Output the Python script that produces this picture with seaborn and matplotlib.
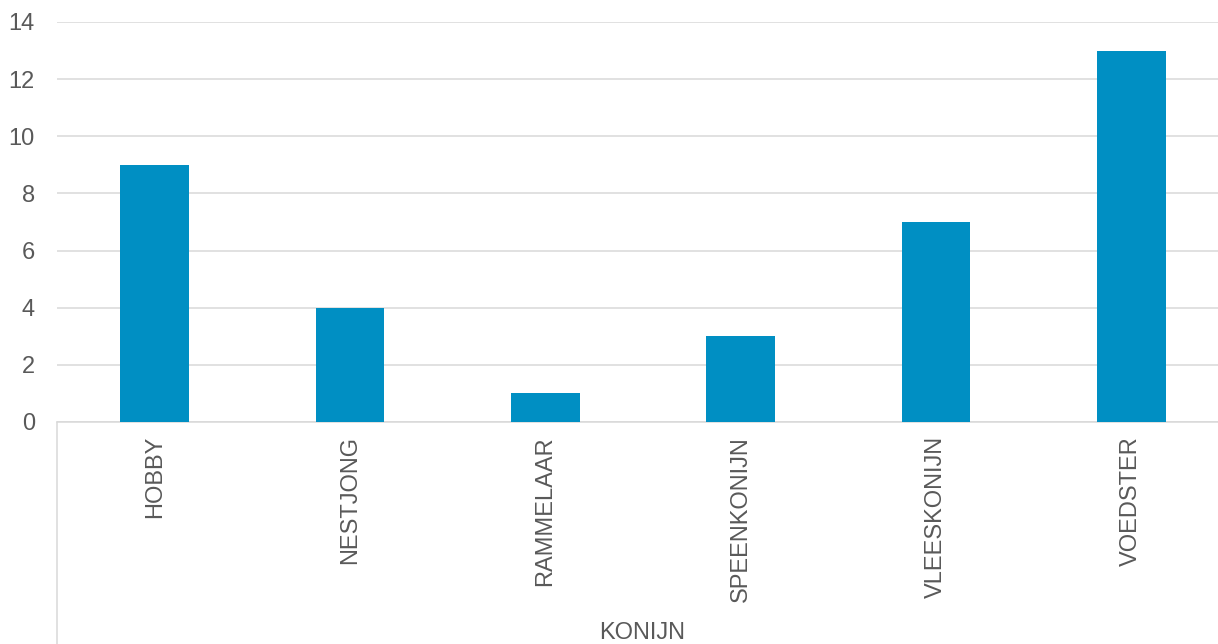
import matplotlib
matplotlib.use('Agg')
import matplotlib.pyplot as plt
import seaborn as sns
import pandas as pd
from matplotlib.lines import Line2D

# Values
categories = ['HOBBY', 'NESTJONG', 'RAMMELAAR', 'SPEENKONIJN', 'VLEESKONIJN', 'VOEDSTER']
counts = [9, 4, 1, 3, 7, 13]
y_ticks = [0, 2, 4, 6, 8, 10, 12, 14]
group_label = 'KONIJN'

df = pd.DataFrame({'Type': categories, 'Aantal': counts})

sns.set_style('white')
plt.rcParams['font.family'] = ['Liberation Sans', 'DejaVu Sans']

text_col = '#595959'
grid_col = '#D9D9D9'

fig = plt.figure(figsize=(12.18, 6.44), dpi=100)
# the original plot area runs a bit past the right edge of the image
left, bottom, top = 57 / 1218, 1 - 422 / 644, 1 - 22 / 644
width = 1172 / 1218
ax = fig.add_axes([left, bottom, width, top - bottom])

sns.barplot(data=df, x='Type', y='Aantal', color='#008FC3', width=0.353,
            saturation=1, linewidth=0, ax=ax, zorder=3)

ax.set_ylim(0, 14)
ax.set_yticks(y_ticks)
ax.set_xlim(-0.5, len(categories) - 0.5)
ax.yaxis.grid(True, color=grid_col, linewidth=1.1, zorder=0)
ax.set_axisbelow(True)

for s in ['left', 'right', 'top']:
    ax.spines[s].set_visible(False)
ax.spines['bottom'].set_color(grid_col)
ax.spines['bottom'].set_linewidth(1.1)

ax.tick_params(axis='y', length=0, pad=16, labelsize=17, labelcolor=text_col)
ax.tick_params(axis='x', length=0, pad=10, labelsize=17, labelcolor=text_col)
plt.setp(ax.get_xticklabels(), rotation=90, va='top', ha='center')
ax.set_xlabel('')
ax.set_ylabel('')

# category-axis frame line on the left below the plot
fig.add_artist(Line2D([left, left], [0, bottom], color=grid_col, linewidth=1.1))
fig.text(0.527, 0.0, group_label, ha='center', va='bottom', fontsize=17, color=text_col)

fig.savefig('out.png', dpi=100)
